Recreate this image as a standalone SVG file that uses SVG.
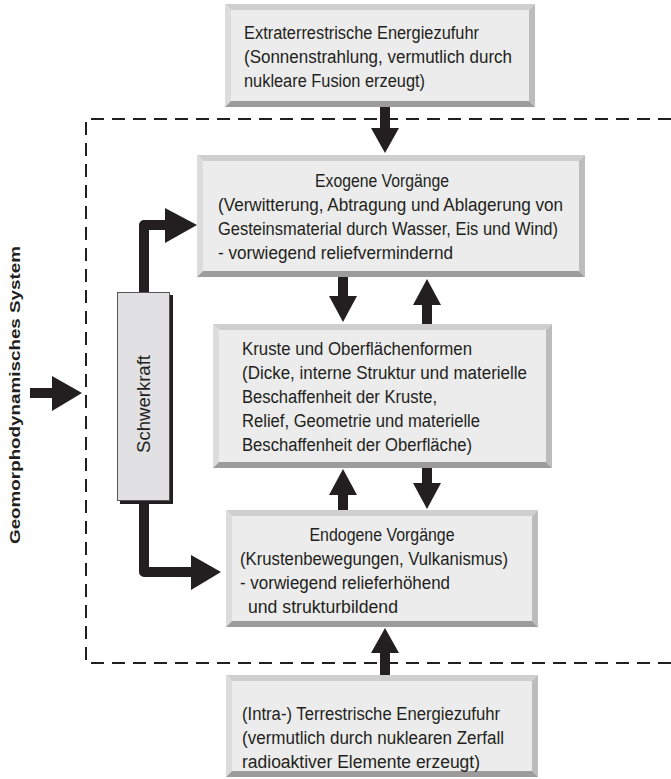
<svg xmlns="http://www.w3.org/2000/svg" width="671" height="779" viewBox="0 0 671 779">
<style>
.t{font-family:"Liberation Sans",Arial,sans-serif;font-size:18px;fill:#231f20}
.b{font-family:"Liberation Sans",Arial,sans-serif;font-size:15px;font-weight:bold;fill:#231f20}
.face{fill:#ececec}
.bt{fill:#cfcfcf}
.bl{fill:#dcdcdc}
.br{fill:#bcbcbc}
.bb{fill:#9c9c9c}
.ar{fill:#231f20}
.ln{fill:none;stroke:#231f20;stroke-width:10;stroke-linejoin:round}
.dash{fill:none;stroke:#231f20;stroke-width:2;stroke-dasharray:13 8}
</style>
<rect width="671" height="779" fill="#ffffff"/>
<g id="system-boundary">
<path class="dash" d="M671 119 H86 V663 H671"/>
<text class="b" transform="translate(20,395) rotate(-90)" text-anchor="middle" textLength="298" lengthAdjust="spacingAndGlyphs">Geomorphodynamisches System</text>
</g>
<g id="connectors">
<polygon class="ar" points="380,106 390,106 390,128 399,128 385,153 371,128 380,128"/>
<polygon class="ar" points="338,277 348,277 348,296 357,296 343,322 329,296 338,296"/>
<polygon class="ar" points="422,324 432,324 432,305 441,305 427,279 413,305 422,305"/>
<polygon class="ar" points="338,510 348,510 348,495 357,495 343,469 329,495 338,495"/>
<polygon class="ar" points="422,468 432,468 432,483 441,483 427,509 413,483 422,483"/>
<polygon class="ar" points="380,675 390,675 390,653 399,653 385,628 371,653 380,653"/>
<path class="ln" d="M144 293 V225 H168"/>
<polygon class="ar" points="165,208 197,225 165,243"/>
<path class="ln" d="M144 502 V572 H193"/>
<polygon class="ar" points="191,555 221,572 191,590"/>
<rect class="ar" x="30" y="388" width="23" height="10"/>
<polygon class="ar" points="52,376 82,393 52,411"/>
</g>
<g id="extraterrestrisch">
<polygon class="bt" points="225,4 535,4 529,10 231,10"/>
<polygon class="bl" points="225,4 231,10 231,101 225,107"/>
<polygon class="br" points="535,4 535,107 529,101 529,10"/>
<polygon class="bb" points="225,107 535,107 529,101 231,101"/>
<rect class="face" x="231" y="10" width="298" height="91"/>
<text class="t" x="244" y="39" textLength="235" lengthAdjust="spacingAndGlyphs">Extraterrestrische Energiezufuhr</text>
<text class="t" x="244" y="63" textLength="268" lengthAdjust="spacingAndGlyphs">(Sonnenstrahlung, vermutlich durch</text>
<text class="t" x="244" y="87" textLength="181" lengthAdjust="spacingAndGlyphs">nukleare Fusion erzeugt)</text>
</g>
<g id="exogen">
<polygon class="bt" points="197,155 585,155 579,161 203,161"/>
<polygon class="bl" points="197,155 203,161 203,271 197,277"/>
<polygon class="br" points="585,155 585,277 579,271 579,161"/>
<polygon class="bb" points="197,277 585,277 579,271 203,271"/>
<rect class="face" x="203" y="161" width="376" height="110"/>
<text class="t" x="382" y="187" text-anchor="middle" textLength="134" lengthAdjust="spacingAndGlyphs">Exogene Vorgänge</text>
<text class="t" x="218" y="211" textLength="345" lengthAdjust="spacingAndGlyphs">(Verwitterung, Abtragung und Ablagerung von</text>
<text class="t" x="218" y="235" textLength="340" lengthAdjust="spacingAndGlyphs">Gesteinsmaterial durch Wasser, Eis und Wind)</text>
<text class="t" x="218" y="259" textLength="235" lengthAdjust="spacingAndGlyphs">- vorwiegend reliefvermindernd</text>
</g>
<g id="kruste">
<polygon class="bt" points="213,324 552,324 546,330 219,330"/>
<polygon class="bl" points="213,324 219,330 219,462 213,468"/>
<polygon class="br" points="552,324 552,468 546,462 546,330"/>
<polygon class="bb" points="213,468 552,468 546,462 219,462"/>
<rect class="face" x="219" y="330" width="327" height="132"/>
<text class="t" x="242" y="355" textLength="230" lengthAdjust="spacingAndGlyphs">Kruste und Oberflächenformen</text>
<text class="t" x="242" y="379" textLength="285" lengthAdjust="spacingAndGlyphs">(Dicke, interne Struktur und materielle</text>
<text class="t" x="242" y="403" textLength="195" lengthAdjust="spacingAndGlyphs">Beschaffenheit der Kruste,</text>
<text class="t" x="242" y="427" textLength="238" lengthAdjust="spacingAndGlyphs">Relief, Geometrie und materielle</text>
<text class="t" x="242" y="451" textLength="230" lengthAdjust="spacingAndGlyphs">Beschaffenheit der Oberfläche)</text>
</g>
<g id="endogen">
<polygon class="bt" points="226,510 538,510 532,516 232,516"/>
<polygon class="bl" points="226,510 232,516 232,621 226,627"/>
<polygon class="br" points="538,510 538,627 532,621 532,516"/>
<polygon class="bb" points="226,627 538,627 532,621 232,621"/>
<rect class="face" x="232" y="516" width="300" height="105"/>
<text class="t" x="382" y="541" text-anchor="middle" textLength="145" lengthAdjust="spacingAndGlyphs">Endogene Vorgänge</text>
<text class="t" x="240" y="565" textLength="268" lengthAdjust="spacingAndGlyphs">(Krustenbewegungen, Vulkanismus)</text>
<text class="t" x="240" y="589" textLength="210" lengthAdjust="spacingAndGlyphs">- vorwiegend relieferhöhend</text>
<text class="t" x="248" y="613" textLength="150" lengthAdjust="spacingAndGlyphs">und strukturbildend</text>
</g>
<g id="terrestrisch">
<polygon class="bt" points="226,675 538,675 532,681 232,681"/>
<polygon class="bl" points="226,675 232,681 232,771 226,777"/>
<polygon class="br" points="538,675 538,777 532,771 532,681"/>
<polygon class="bb" points="226,777 538,777 532,771 232,771"/>
<rect class="face" x="232" y="681" width="300" height="90"/>
<text class="t" x="242" y="720" textLength="258" lengthAdjust="spacingAndGlyphs">(Intra-) Terrestrische Energiezufuhr</text>
<text class="t" x="242" y="744" textLength="262" lengthAdjust="spacingAndGlyphs">(vermutlich durch nuklearen Zerfall</text>
<text class="t" x="242" y="768" textLength="238" lengthAdjust="spacingAndGlyphs">radioaktiver Elemente erzeugt)</text>
</g>
<g id="schwerkraft">
<rect x="120" y="295" width="53" height="209" fill="#231f20"/>
<rect x="117.5" y="292.5" width="52" height="208" fill="#e1e1e3" stroke="#555555" stroke-width="1"/>
<text class="t" transform="translate(150,404) rotate(-90)" text-anchor="middle" textLength="98" lengthAdjust="spacingAndGlyphs">Schwerkraft</text>
</g>
</svg>
